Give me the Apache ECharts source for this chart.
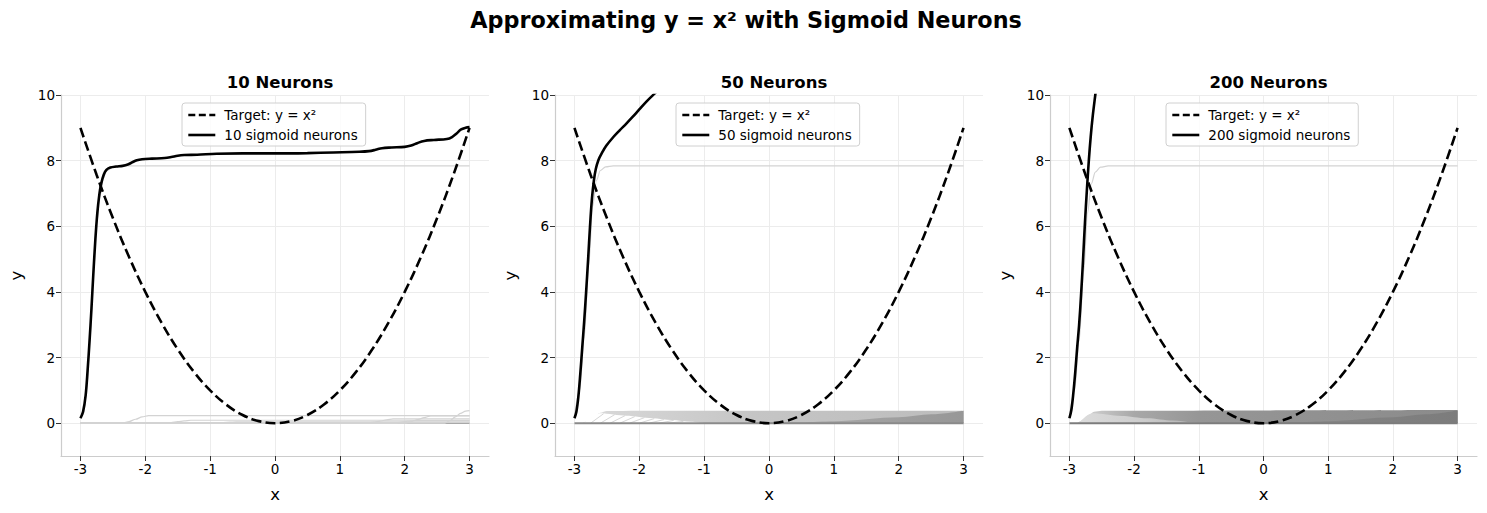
<!DOCTYPE html>
<html><head><meta charset="utf-8">
<script src="https://cdn.jsdelivr.net/npm/echarts@6/dist/echarts.min.js"></script>
<style>html,body{margin:0;padding:0;background:#fff}#c{width:1487px;height:513px}</style>
</head><body><div id="c"></div>
<script>
// ---------- data ----------
const xTicks = [-3, -2, -1, 0, 1, 2, 3];
const yTicks = [0, 2, 4, 6, 8, 10];
const panelTitles = ['10 Neurons', '50 Neurons', '200 Neurons'];
const sumNames = ['10 sigmoid neurons', '50 sigmoid neurons', '200 sigmoid neurons'];
const targetName = 'Target: y = x\u00b2';
const mainTitle = 'Approximating y = x\u00b2 with Sigmoid Neurons';

const targetCurve = [[-3,9],[-2.75,7.5625],[-2.5,6.25],[-2.25,5.0625],[-2,4],[-1.75,3.0625],[-1.5,2.25],[-1.25,1.5625],[-1,1],[-0.75,0.5625],[-0.5,0.25],[-0.25,0.0625],[0,0],[0.25,0.0625],[0.5,0.25],[0.75,0.5625],[1,1],[1.25,1.5625],[1.5,2.25],[1.75,3.0625],[2,4],[2.25,5.0625],[2.5,6.25],[2.75,7.5625],[3,9]];

const sum10 = [[-3,0.15],[-2.96,0.35],[-2.92,0.85],[-2.89,1.6],[-2.86,2.5],[-2.83,3.5],[-2.8,4.6],[-2.77,5.6],[-2.74,6.4],[-2.71,6.95],[-2.68,7.3],[-2.64,7.58],[-2.6,7.72],[-2.54,7.79],[-2.45,7.82],[-2.35,7.84],[-2.27,7.88],[-2.2,7.95],[-2.13,8.01],[-2.05,8.04],[-1.9,8.06],[-1.7,8.08],[-1.6,8.11],[-1.5,8.15],[-1.4,8.17],[-1.2,8.18],[-0.9,8.21],[-0.5,8.22],[0,8.22],[0.5,8.23],[0.9,8.25],[1.3,8.27],[1.45,8.29],[1.55,8.33],[1.65,8.38],[1.8,8.4],[2.0,8.42],[2.1,8.46],[2.2,8.54],[2.3,8.6],[2.45,8.63],[2.65,8.66],[2.73,8.72],[2.8,8.83],[2.87,8.95],[2.94,9.0],[3,9.02]];
const sum50 = [[-3,0.15],[-2.97,0.35],[-2.94,0.8],[-2.91,1.5],[-2.88,2.3],[-2.85,3.1],[-2.82,4.0],[-2.79,4.97],[-2.76,6.0],[-2.73,6.85],[-2.7,7.4],[-2.67,7.75],[-2.63,8.02],[-2.58,8.22],[-2.51,8.45],[-2.4,8.72],[-2.3,8.93],[-2.2,9.13],[-2.1,9.34],[-2.0,9.56],[-1.89,9.8],[-1.76,10.05],[-1.6,10.35],[-1.4,10.7]];
const sum200 = [[-3,0.15],[-2.97,0.4],[-2.94,0.9],[-2.91,1.55],[-2.88,2.3],[-2.85,3.0],[-2.82,3.9],[-2.79,4.95],[-2.76,6.1],[-2.73,7.1],[-2.7,8.0],[-2.67,8.75],[-2.64,9.35],[-2.6,10.0],[-2.55,10.8],[-2.5,11.6]];

const bigNeuron10 = [[-3,0.15],[-2.95,0.3],[-2.9,1.1],[-2.86,2.4],[-2.8,4.5],[-2.75,6.1],[-2.7,6.9],[-2.65,7.45],[-2.6,7.68],[-2.5,7.8],[-2.3,7.84],[3,7.84]];
const bigNeuron50 = [[-3,0.2],[-2.92,1.0],[-2.85,2.6],[-2.78,4.8],[-2.72,6.6],[-2.66,7.4],[-2.6,7.7],[-2.52,7.81],[-2.4,7.84],[3,7.84]];
const bigNeuron200 = [[-3,0.2],[-2.92,1.0],[-2.85,2.5],[-2.78,4.6],[-2.72,6.4],[-2.66,7.3],[-2.6,7.65],[-2.52,7.8],[-2.4,7.84],[3,7.84]];

const smallNeurons10 = [
  [[-3,0],[-2.35,0],[-2.25,0.05],[-2.15,0.12],[-2.05,0.19],[-1.95,0.23],[3,0.23]],
  [[-3,0],[-1.7,0],[-1.6,0.02],[-1.5,0.045],[-1.4,0.07],[-1.3,0.09],[3,0.09]],
  [[-3,0],[-1.0,0],[-0.9,0.01],[-0.8,0.02],[-0.7,0.03],[-0.6,0.04],[3,0.04]],
  [[-3,0],[1.42,0],[1.52,0.03],[1.62,0.065],[1.72,0.1],[1.82,0.13],[3,0.13]],
  [[-3,0],[1.85,0],[1.95,0.03],[2.05,0.06],[2.15,0.08],[3,0.08]],
  [[-3,0],[2.0,0],[2.1,0.05],[2.2,0.11],[2.3,0.17],[2.4,0.22],[3,0.22]],
  [[-3,0],[2.62,0],[2.7,0.08],[2.78,0.19],[2.86,0.3],[2.94,0.37],[3,0.38]]
];
const zeroLine = [[-3,0],[3,0]];

const band50 = [[-2.88,0],[-2.8,0.06],[-2.7,0.2],[-2.6,0.32],[-2.5,0.37],[-2.0,0.38],[3,0.38]];
const gap50 = [[-2.86,0],[-2.6,0.3],[-2.2,0.225],[-1.8,0.15],[-1.5,0.095],[-1.2,0.04],[-1.0,0]];
const hatch50 = [[[-2.75,0],[-2.55,0.29]],[[-2.6,0],[-2.38,0.26]],[[-2.45,0],[-2.22,0.23]],[[-2.3,0],[-2.07,0.2]],[[-2.15,0],[-1.92,0.17]],[[-2.0,0],[-1.77,0.14]],[[-1.85,0],[-1.62,0.11]],[[-1.7,0],[-1.47,0.085]],[[-1.55,0],[-1.32,0.055]]];
const wedge50 = [[-0.5,0],[0.5,0.03],[1,0.06],[2,0.18],[2.5,0.27],[3,0.38]];

const band200 = [[-2.88,0],[-2.8,0.08],[-2.7,0.25],[-2.62,0.35],[-2.5,0.38],[0,0.39],[3,0.40]];
const light200 = [[-2.86,0],[-2.65,0.3],[-2.2,0.22],[-1.8,0.15],[-1.4,0.08],[-1.1,0.03],[-0.8,0]];
const wedge200 = [[-0.5,0],[0.5,0.03],[1,0.06],[2,0.18],[2.5,0.27],[3,0.39]];

// ---------- layout ----------
const gridLefts = [61, 555, 1050];
const gridWidths = [428, 428, 427];
const legendLefts = [182, 676, 1166];
const FONT = 'DejaVu Sans';

const chart = echarts.init(document.getElementById('c'), null, {renderer: 'svg'});

const grids = [], xAxes = [], yAxes = [], titles = [], legends = [], series = [];
titles.push({text: mainTitle, left: 741, top: 4, textAlign: 'center',
  textStyle: {fontFamily: FONT, fontWeight: 'bold', fontSize: 22.3, color: '#000'}});

function line(i, data, color, width, extra) {
  return Object.assign({
    type: 'line', xAxisIndex: i, yAxisIndex: i, data: data, symbol: 'none',
    smooth: 0.3, smoothMonotone: 'x', silent: true,
    lineStyle: {color: color, width: width}, itemStyle: {color: color}
  }, extra || {});
}
function area(i, data, fill) {
  return {
    type: 'line', xAxisIndex: i, yAxisIndex: i, data: data, symbol: 'none',
    smooth: 0.3, smoothMonotone: 'x', silent: true,
    lineStyle: {width: 0, opacity: 0}, areaStyle: {color: fill, opacity: 1}
  };
}
function hgrad(stops) {
  return new echarts.graphic.LinearGradient(0, 0, 1, 0, stops.map(s => ({offset: s[0], color: s[1]})));
}

for (let i = 0; i < 3; i++) {
  grids.push({left: gridLefts[i], top: 95, width: gridWidths[i], height: 361, containLabel: false});
  xAxes.push({
    gridIndex: i, type: 'value', min: -3.3, max: 3.3,
    name: 'x', nameLocation: 'middle', nameGap: 30,
    nameTextStyle: {fontFamily: FONT, fontSize: 16.5, color: '#000'},
    axisLine: {show: true, onZero: false, lineStyle: {color: '#cccccc', width: 1.2}},
    axisTick: {show: true, customValues: xTicks, length: 5, lineStyle: {color: '#333', width: 1}},
    axisLabel: {customValues: xTicks, color: '#000', fontFamily: FONT, fontSize: 13.5, margin: 6},
    splitLine: {show: true, lineStyle: {color: '#ececec', width: 1}}
  });
  yAxes.push({
    gridIndex: i, type: 'value', min: -1, max: 10,
    name: 'y', nameLocation: 'middle', nameGap: 36, nameRotate: 90,
    nameTextStyle: {fontFamily: FONT, fontSize: 16.5, color: '#000'},
    axisLine: {show: true, onZero: false, lineStyle: {color: '#cccccc', width: 1.2}},
    axisTick: {show: true, customValues: yTicks, length: 5, lineStyle: {color: '#333', width: 1}},
    axisLabel: {customValues: yTicks, color: '#000', fontFamily: FONT, fontSize: 13.5, margin: 6},
    splitLine: {show: true, lineStyle: {color: '#ececec', width: 1}}
  });
  titles.push({text: panelTitles[i], left: gridLefts[i] + gridWidths[i] / 2, top: 69, textAlign: 'center',
    textStyle: {fontFamily: FONT, fontWeight: 'bold', fontSize: 16.5, color: '#000'}});
  legends.push({
    data: [
      {name: targetName, itemStyle: {opacity: 0}, lineStyle: {color: '#000', width: 2.6, type: [7, 3.5]}},
      {name: sumNames[i], itemStyle: {opacity: 0}, lineStyle: {color: '#000', width: 2.6, type: 'solid'}}
    ],
    left: legendLefts[i], top: 103, orient: 'vertical',
    itemWidth: 27, itemHeight: 14, itemGap: 6, padding: [5, 8, 4, 5],
    backgroundColor: 'rgba(255,255,255,0.85)', borderColor: '#d0d0d0', borderWidth: 1, borderRadius: 3,
    selectedMode: false,
    itemStyle: {opacity: 0},
    textStyle: {fontFamily: FONT, fontSize: 13.5, color: '#000', padding: [0, 0, 0, 4]}
  });
}

// panel 1 neurons
series.push(line(0, zeroLine, '#a8a8a8', 1.6, {smooth: false}));
smallNeurons10.forEach(d => series.push(line(0, d, '#d3d3d3', 1.2)));
series.push(line(0, bigNeuron10, '#d3d3d3', 1.2));

// panel 2 neurons
series.push(area(1, band50, hgrad([[0, '#dadada'], [0.45, '#c5c5c5'], [1, '#bcbcbc']])));
series.push(area(1, gap50, '#ffffff'));
hatch50.forEach(d => series.push(line(1, d, '#d6d6d6', 1, {smooth: false})));
series.push(area(1, wedge50, hgrad([[0, '#b0b0b0'], [1, '#979797']])));
series.push(line(1, zeroLine, '#8a8a8a', 2, {smooth: false}));
series.push(line(1, bigNeuron50, '#d3d3d3', 1.2));

// panel 3 neurons
series.push(area(2, band200, hgrad([[0, '#d6d6d6'], [0.07, '#c2c2c2'], [0.15, '#a8a8a8'], [0.32, '#969696'], [1, '#8b8b8b']])));
series.push(area(2, light200, hgrad([[0, '#dcdcdc'], [0.5, '#cccccc'], [1, '#a8a8a8']])));
series.push(area(2, wedge200, hgrad([[0, '#8a8a8a'], [1, '#7c7c7c']])));
series.push(line(2, zeroLine, '#7c7c7c', 2, {smooth: false}));
series.push(line(2, bigNeuron200, '#d3d3d3', 1.2));

// target + sums
const sums = [sum10, sum50, sum200];
for (let i = 0; i < 3; i++) {
  series.push(line(i, targetCurve, '#000', 2.6, {name: targetName, smooth: 0.4, smoothMonotone: null,
    lineStyle: {color: '#000', width: 2.6, type: [10, 4.4]}}));
  series.push(line(i, sums[i], '#000', 2.6, {name: sumNames[i], smooth: 0.35, smoothMonotone: null}));
}

chart.setOption({
  animation: false,
  backgroundColor: '#fff',
  title: titles, grid: grids, xAxis: xAxes, yAxis: yAxes, legend: legends, series: series
});
</script></body></html>
